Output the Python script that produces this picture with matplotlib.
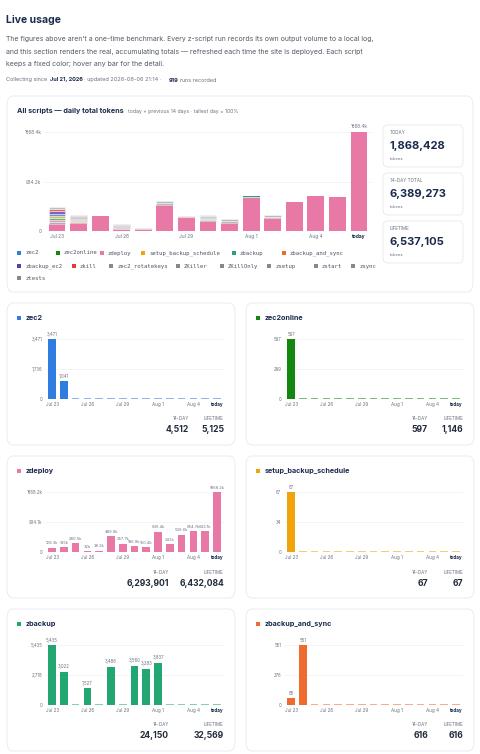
import matplotlib
matplotlib.use("Agg")
import matplotlib.pyplot as plt
from matplotlib.patches import FancyBboxPatch, Rectangle
import numpy as np

plt.rcParams['font.family'] = ['Inter', 'DejaVu Sans']

days = ["Jul 23", "", "", "Jul 26", "", "", "Jul 29", "", "", "Aug 1", "", "", "Aug 4", "", "today"]
zdeploy = [128.3, 145.0, 280.5, 32.0, 38.2, 489.9, 257.7, 186.9, 150.4, 636.4, 243.0, 539.6, 654.7, 643.1, 1868.2]  # k tokens
minor_est = [320, 155, 0, 95, 15, 80, 25, 120, 75, 20, 60, 0, 0, 0, 0]  # k, visual stack of other scripts
minor_multi = [True, True, False, True, False, False, False, True, False, False, False, False, False, False, False]
zec2 = [3471, 1041] + [0] * 13
zec2online = [597] + [0] * 14
setup_backup_schedule = [67] + [0] * 14
zbackup = [5435, 3022, 0, 1527, 0, 3486, 0, 3560, 3283, 3837, 0, 0, 0, 0, 0]
zbackup_and_sync = [65, 551] + [0] * 13
legend_names = ["zec2", "zec2online", "zdeploy", "setup_backup_schedule", "zbackup", "zbackup_and_sync",
                "zbackup_ec2", "zkill", "zec2_rotatekeys", "ZKiller", "ZKillOnly", "zsetup", "zstart", "zsync", "ztests"]
legend_colors = ["#2f7de1", "#13870f", "#e879a6", "#f0a30a", "#22a772", "#ee6a2f",
                 "#5b3fb0", "#e03a3a", "#888888", "#888888", "#888888", "#888888", "#888888", "#888888", "#888888"]
stats = [("TODAY", "1,868,428"), ("14-DAY TOTAL", "6,389,273"), ("LIFETIME", "6,537,105")]

W, H = 480, 754
fig = plt.figure(figsize=(4.8, 7.54), dpi=100)
fig.patch.set_facecolor("white")
NAVY = "#1b2b4d"
GRAY = "#6b7280"

def fx(x): return x / W
def fy(y): return 1 - y / H

def card(x0, y0, x1, y1, r=6):
    p = FancyBboxPatch((fx(x0), fy(y1)), fx(x1 - x0), (y1 - y0) / H,
                       boxstyle=f"round,pad=0,rounding_size={r / W}", transform=fig.transFigure,
                       facecolor="white", edgecolor="#e6e9ef", linewidth=0.6, zorder=-5)
    fig.patches.append(p)

def txt(x, y, s, **kw):
    fig.text(fx(x), fy(y), s, **kw)

txt(6, 20, "Live usage", fontsize=7.5, fontweight="bold", color=NAVY, va="center")
para = ["The figures above aren't a one-time benchmark. Every z-script run records its own output volume to a local log,",
        "and this section renders the real, accumulating totals \u2014 refreshed each time the site is deployed. Each script",
        "keeps a fixed color; hover any bar for the detail."]
for i, l in enumerate(para):
    txt(6, 39.5 + 12.4 * i, l, fontsize=5.0, color="#555b66", va="center")
txt(6, 80, "Collecting since", fontsize=4.0, color=GRAY, va="center")
txt(50, 80, "Jul 21, 2026", fontsize=4.0, color=NAVY, fontweight="bold", va="center")
txt(84, 80, "\u00b7 updated 2026-08-06 21:14 \u00b7", fontsize=4.0, color=GRAY, va="center")
txt(169, 80, "919", fontsize=4.0, color=NAVY, fontweight="bold", va="center")
txt(180, 80, "runs recorded", fontsize=4.0, color=GRAY, va="center")

# main card
card(7, 96, 473, 292)
txt(17, 111, "All scripts \u2014 daily total tokens", fontsize=5.2, fontweight="bold", color=NAVY, va="center")
txt(128, 111.5, "today + previous 14 days \u00b7 tallest day = 100%", fontsize=3.7, color=GRAY, va="center")

x = np.arange(len(days))
ax = fig.add_axes([fx(44), fy(231), fx(328), (231 - 132) / H], zorder=2)
top = 1868.4
ax.set_ylim(0, top)
ax.set_xlim(-0.6, 14.6)
for v in [0, top / 2, top]:
    ax.axhline(v, color="#eef0f3", lw=0.5, zorder=0)
ax.bar(x, zdeploy, width=0.78, color="#e879a6", zorder=2)
stripe_cols = ["#9a9a9a", "#e879a6", "#22a772", "#f0a30a", "#2f7de1", "#5b3fb0", "#e03a3a", "#b0b0b0"]
for i in range(len(x)):
    m = minor_est[i]
    if m <= 0:
        continue
    n = 8 if minor_multi[i] else 2
    seg = m / n
    for k in range(n):
        c = stripe_cols[k % len(stripe_cols)] if minor_multi[i] else "#a9a9a9"
        ax.bar(x[i], seg, bottom=zdeploy[i] + k * seg, width=0.78, color=c, alpha=0.8,
               edgecolor="white", linewidth=0.4, zorder=2)
ax.bar(x[14], 12, bottom=zdeploy[14] + 6, width=0.78, color="#aaaaaa", zorder=2)
ax.bar(x[9], 18, bottom=zdeploy[9], width=0.78, color="#22a772", zorder=3)
ax.text(x[14], top * 1.03, "1868.4k", fontsize=3.3, color=GRAY, ha="center", va="bottom")
ax.set_yticks([0, top / 2, top])
ax.set_yticklabels(["0", "934.2k", "1868.4k"], fontsize=3.3, color=GRAY)
ax.set_xticks([0, 3, 6, 9, 12, 14])
xl = ax.set_xticklabels(["Jul 23", "Jul 26", "Jul 29", "Aug 1", "Aug 4", "today"], fontsize=3.5, color=GRAY)
xl[-1].set_color(NAVY); xl[-1].set_fontweight("bold")
ax.tick_params(length=0, pad=2)
for s in ax.spines.values():
    s.set_visible(False)
ax.set_facecolor("none")

# legend
rows = [(0, 6, 253), (6, 14, 266), (14, 15, 278)]
xpos_rows = [[17, 56, 100, 141, 232, 282], [17, 72, 109, 176, 220, 267, 314, 351, 390], [17]]
for (a, b, yy), xs in zip(rows, xpos_rows):
    for j, i in enumerate(range(a, b)):
        fig.patches.append(Rectangle((fx(xs[j]), fy(yy + 2)), fx(4), 4 / H, transform=fig.transFigure,
                                     facecolor=legend_colors[i], edgecolor="none"))
        txt(xs[j] + 8, yy, legend_names[i], fontsize=4.1, family="DejaVu Sans Mono", color="#4b5563", va="center")

# stat boxes
for k, (lab, val) in enumerate(stats):
    y0 = 125 + 48 * k
    card(383, y0, 463, y0 + 42, r=4)
    txt(390, y0 + 8, lab, fontsize=3.3, color=GRAY, va="center")
    txt(390, y0 + 21, val, fontsize=8.0, fontweight="bold", color=NAVY, va="center")
    txt(390, y0 + 34, "tokens", fontsize=3.0, color=GRAY, va="center")

def fmt(v, k=False):
    if k:
        return f"{v:.1f}k".replace(".0k", "k")
    return f"{int(round(v)):,}"

def small(cx, cy, name, color, vals, total14, lifetime, k=False, ylabels=None):
    card(cx, cy, cx + 228, cy + 142)
    fig.patches.append(Rectangle((fx(cx + 10), fy(cy + 17)), fx(4), 4 / H, transform=fig.transFigure,
                                 facecolor=color, edgecolor="none"))
    txt(cx + 19, cy + 15, name, fontsize=5.2, fontweight="bold", color=NAVY, va="center")
    a = fig.add_axes([fx(cx + 38), fy(cy + 96), fx(179), 60 / H], zorder=2)
    vmax = max(vals)
    a.set_ylim(0, vmax)
    a.set_xlim(-0.6, 14.6)
    for v in [0, vmax / 2, vmax]:
        a.axhline(v, color="#eef0f3", lw=0.5, zorder=0)
    for i, v in enumerate(vals):
        h = v if v > 0 else vmax * 0.018
        a.bar(x[i], h, width=0.65, color=color, alpha=1.0 if v > 0 else 0.55, zorder=2)
        if v > 0:
            a.text(x[i], v + vmax * 0.04, fmt(v, k), fontsize=2.9 if k else 3.1, color=GRAY,
                   ha="center", va="bottom")
    a.set_yticks([0, vmax / 2, vmax])
    a.set_yticklabels(ylabels, fontsize=3.1, color=GRAY)
    a.set_xticks([0, 3, 6, 9, 12, 14])
    xl = a.set_xticklabels(["Jul 23", "Jul 26", "Jul 29", "Aug 1", "Aug 4", "today"], fontsize=3.3, color=GRAY)
    xl[-1].set_color(NAVY); xl[-1].set_fontweight("bold")
    a.tick_params(length=0, pad=2)
    for s in a.spines.values():
        s.set_visible(False)
    a.set_facecolor("none")
    rx = cx + 217
    txt(rx, cy + 116, "LIFETIME", fontsize=3.3, color=GRAY, ha="right", va="center")
    txt(rx, cy + 127, lifetime, fontsize=6.2, fontweight="bold", color="#222b3a", ha="right", va="center")
    lx = rx - 55 if len(lifetime) > 5 else rx - 35
    txt(lx, cy + 116, "14-DAY", fontsize=3.3, color=GRAY, ha="right", va="center")
    txt(lx, cy + 127, total14, fontsize=6.2, fontweight="bold", color="#222b3a", ha="right", va="center")

small(7, 303, "zec2", "#2f7de1", zec2, "4,512", "5,125", ylabels=["0", "1,736", "3,471"])
small(246, 303, "zec2online", "#13870f", zec2online, "597", "1,146", ylabels=["0", "299", "597"])
small(7, 456, "zdeploy", "#e879a6", zdeploy, "6,293,901", "6,432,084", k=True, ylabels=["0", "934.1k", "1868.2k"])
small(246, 456, "setup_backup_schedule", "#f0a30a", setup_backup_schedule, "67", "67", ylabels=["0", "34", "67"])
small(7, 609, "zbackup", "#22a772", zbackup, "24,150", "32,569", ylabels=["0", "2,718", "5,435"])
small(246, 609, "zbackup_and_sync", "#ee6a2f", zbackup_and_sync, "616", "616", ylabels=["0", "276", "551"])

fig.savefig("out.png", dpi=100, facecolor="white")
